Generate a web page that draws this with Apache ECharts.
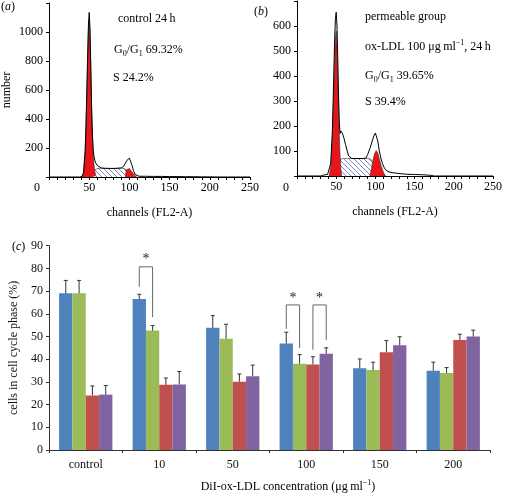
<!DOCTYPE html>
<html><head><meta charset="utf-8">
<script src="https://cdn.jsdelivr.net/npm/echarts@6/dist/echarts.min.js"></script>
<style>html,body{margin:0;padding:0;background:#fff}#c{width:505px;height:494px}</style>
</head><body><div id="c"></div>
<script>
// ---------- Panel (a): control 24 h histogram [channel, count] ----------
const aOutline = [[0,0],[38,0],[41,4],[43,30],[45,180],[46,360],[47,580],[48,820],[49,1040],[50,1135],[51,1020],[52,760],[53,480],[54,290],[55,185],[56,140],[57,115],[58,98],[60,80],[62,68],[65,62],[70,60],[75,59],[80,59],[85,60],[90,63],[93,75],[95,95],[97,115],[99,128],[100,130],[101,125],[103,85],[105,45],[107,18],[109,8],[112,5],[120,5],[130,4],[140,4],[150,3],[160,3],[170,2],[180,2],[190,1],[200,1],[210,0],[250,0]];
const aG1 = [[41,0],[43,30],[45,180],[46,340],[47,550],[48,790],[49,1000],[50,1090],[51,980],[52,730],[53,470],[54,280],[55,160],[56,85],[57,40],[58,12],[59,0]];
const aS = [[50,0],[53,25],[57,50],[60,58],[65,60],[70,59],[80,59],[90,60],[94,60],[96,45],[100,15],[103,0]];
const aG2 = [[95,0],[96,50],[98,60],[100,58],[102,48],[104,30],[106,14],[108,4],[109,0]];

// ---------- Panel (b): ox-LDL 100 histogram [channel, count] ----------
const bOutline = [[0,0],[30,0],[33,3],[36,5],[39,6],[41,10],[43,50],[45,170],[46,290],[47,420],[48,540],[49,630],[50,655],[51,600],[52,470],[53,320],[54,210],[55,170],[56,180],[57,185],[58,170],[60,150],[62,125],[64,100],[66,80],[68,72],[70,70],[75,70],[80,70],[85,70],[88,72],[90,85],[93,110],[96,140],[98,160],[100,172],[101,170],[103,140],[105,100],[107,72],[109,50],[111,35],[113,25],[116,18],[120,14],[125,12],[130,10],[140,7],[150,6],[160,5],[170,3],[175,0],[250,0]];
const bG1 = [[41,0],[43,35],[45,140],[46,240],[47,350],[48,460],[49,550],[50,580],[51,520],[52,400],[53,270],[54,160],[55,80],[56,30],[57,0]];
const bS = [[48,0],[51,20],[54,55],[56,68],[60,70],[70,70],[80,70],[90,70],[94,68],[96,55],[100,30],[104,12],[108,3],[111,0]];
const bG2 = [[93,0],[95,30],[97,65],[99,90],[101,102],[103,92],[105,70],[107,45],[109,25],[111,10],[113,0]];

// ---------- Panel (c): bars ----------
const categories = ['control','10','50','100','150','200'];
const blueVals   = [69.0, 66.5, 53.8, 46.9, 36.0, 34.9];
const blueErr    = [5.7, 2.1, 5.4, 5.0, 4.1, 3.8];
const greenVals  = [69.0, 52.6, 49.0, 38.0, 35.2, 33.9];
const greenErr   = [5.7, 2.2, 6.4, 4.0, 3.5, 2.4];
const redVals    = [24.0, 28.7, 30.1, 37.7, 43.1, 48.5];
const redErr     = [4.2, 3.0, 3.4, 3.4, 5.1, 2.5];
const purpleVals = [24.4, 28.9, 32.5, 42.4, 46.1, 50.0];
const purpleErr  = [4.0, 5.7, 4.9, 2.6, 3.8, 2.8];
// significance brackets: [category, leftBar, rightBar, top, leftLegEnd, rightLegEnd]
const brackets = [[1,0,1,80.7,71.9,58.5],[3,0,1,63.9,53.4,44.9],[3,2,3,63.9,44.2,48.5]];

const FF = 'Liberation Serif';
const chart = echarts.init(document.getElementById('c'), null, {renderer:'canvas'});

// hatch pattern
const pc = document.createElement('canvas'); pc.width = 5; pc.height = 5;
const pctx = pc.getContext('2d'); pctx.strokeStyle = '#5a6ab8'; pctx.lineWidth = 0.8;
[-5,0,5].forEach(x0 => { pctx.beginPath(); pctx.moveTo(x0,0); pctx.lineTo(x0+5,5); pctx.stroke(); });

const GAP = 0.275;
const colors = ['#4F81BD','#9BBB59','#C0504D','#8064A2'];

function histAxisX(grid){
  return {gridIndex:grid, type:'value', min:0, max:250, interval:50,
    axisLine:{show:true, lineStyle:{color:'#000', width:1}},
    axisTick:{show:true, length:3, lineStyle:{color:'#000'}},
    minorTick:{show:true, splitNumber:5, length:3, lineStyle:{color:'#000'}},
    splitLine:{show:false}, minorSplitLine:{show:false},
    axisLabel:{fontFamily:FF, fontSize:12, color:'#000', margin:5, formatter:v => v===0 ? '' : String(v)},
    name:'channels (FL2-A)', nameLocation:'middle', nameGap:30,
    nameTextStyle:{fontFamily:FF, fontSize:12, color:'#000'}};
}
function histAxisY(grid, max, interval, name){
  return {gridIndex:grid, type:'value', min:0, max:max, interval:interval,
    axisLine:{show:true, lineStyle:{color:'#000', width:1}},
    axisTick:{show:true, length:3, lineStyle:{color:'#000'}},
    splitLine:{show:false},
    axisLabel:{fontFamily:FF, fontSize:12, color:'#000', margin:6, formatter:v => (v===0||v===max) ? '' : String(v)},
    name:name, nameLocation:'middle', nameGap:36,
    nameTextStyle:{fontFamily:FF, fontSize:12, color:'#000'}};
}
function areaSeries(data, xi, fill, z){
  return {type:'line', xAxisIndex:xi, yAxisIndex:xi, data:data, symbol:'none', smooth:false,
    lineStyle:{width:0.6, color:'#333'}, areaStyle:{color:fill, opacity:1}, z:z, silent:true};
}
function outlineSeries(data, xi){
  return {type:'line', xAxisIndex:xi, yAxisIndex:xi, data:data, symbol:'none', smooth:false,
    lineStyle:{width:1, color:'#000'}, z:5, silent:true};
}
function barSeries(vals, k){
  return {type:'bar', xAxisIndex:2, yAxisIndex:2, data:vals, barGap:'0%', barCategoryGap:(GAP*100)+'%',
    itemStyle:{color:colors[k]}, z:2, silent:true};
}
function errSeries(vals, errs, k){
  return {type:'custom', xAxisIndex:2, yAxisIndex:2, z:3, silent:true,
    data: vals.map((v,i)=>[i, v, errs[i]]),
    encode:{x:0, y:1},
    renderItem:function(params, api){
      const cat = api.value(0), v = api.value(1), e = api.value(2);
      const band = api.size([1,0])[0];
      const bw = band*(1-GAP)/4;
      const b = api.coord([cat, v]); const t = api.coord([cat, v+e]);
      const x = b[0] + (k-1.5)*bw;
      const st = {stroke:'#333', lineWidth:1};
      return {type:'group', children:[
        {type:'line', shape:{x1:x, y1:b[1], x2:x, y2:t[1]}, style:st},
        {type:'line', shape:{x1:x-2, y1:t[1], x2:x+2, y2:t[1]}, style:st}
      ]};
    }};
}
const bracketSeries = {type:'custom', xAxisIndex:2, yAxisIndex:2, z:4, silent:true,
  data: brackets, encode:{x:0, y:3},
  renderItem:function(params, api){
    const cat = api.value(0), kl = api.value(1), kr = api.value(2);
    const top = api.value(3), lb = api.value(4), rb = api.value(5);
    const band = api.size([1,0])[0];
    const bw = band*(1-GAP)/4;
    const c = api.coord([cat, top]);
    const xl = c[0] + (kl-1.5)*bw, xr = c[0] + (kr-1.5)*bw;
    const yl = api.coord([cat, lb])[1], yr = api.coord([cat, rb])[1];
    const st = {stroke:'#666', lineWidth:1, fill:null};
    return {type:'group', children:[
      {type:'polyline', shape:{points:[[xl,yl],[xl,c[1]],[xr,c[1]],[xr,yr]]}, style:st},
      {type:'text', style:{text:'*', x:(xl+xr)/2, y:c[1]-7, font:'14px '+FF, fill:'#222', textAlign:'center', textVerticalAlign:'middle', align:'center', verticalAlign:'middle'}}
    ]};
  }};

const subRich = {
  n:{fontFamily:FF, fontSize:12, color:'#000', lineHeight:16, verticalAlign:'middle'},
  sub:{fontFamily:FF, fontSize:8, color:'#000', lineHeight:8, verticalAlign:'bottom'},
  sup:{fontFamily:FF, fontSize:8, color:'#000', lineHeight:8, verticalAlign:'top'},
  it:{fontFamily:FF, fontSize:12, fontStyle:'italic', color:'#000', lineHeight:16, verticalAlign:'middle'}
};
function txt(x, y, text){
  return {type:'text', x:x, y:y, style:{text:text, rich:subRich, font:'12px '+FF, fill:'#000',
    textAlign:'left', textVerticalAlign:'middle', align:'left', verticalAlign:'middle'}};
}

const option = {
  animation:false,
  backgroundColor:'#fff',
  grid:[
    {left:49, top:3, width:201, height:174},
    {left:297, top:1, width:197, height:175},
    {left:49, top:245.7, width:441, height:205}
  ],
  xAxis:[
    histAxisX(0),
    histAxisX(1),
    {gridIndex:2, type:'category', data:categories,
      axisLine:{show:true, lineStyle:{color:'#333'}},
      axisTick:{show:true, alignWithLabel:false, length:3, lineStyle:{color:'#333'}},
      axisLabel:{fontFamily:FF, fontSize:12, color:'#111', margin:9},
      splitLine:{show:false},
      name:'{n|DiI-ox-LDL concentration (μg\u2009ml}{sup|−1}{n|)}', nameLocation:'middle', nameGap:29,
      nameTextStyle:{fontFamily:FF, fontSize:12, color:'#111', padding:[0,0,0,37], rich:subRich}}
  ],
  yAxis:[
    histAxisY(0, 1200, 200, 'number'),
    histAxisY(1, 700, 100, ''),
    {gridIndex:2, type:'value', min:0, max:90, interval:10,
      axisLine:{show:true, lineStyle:{color:'#333'}},
      axisTick:{show:true, length:3, lineStyle:{color:'#333'}},
      splitLine:{show:false},
      axisLabel:{fontFamily:FF, fontSize:12, color:'#111', margin:6},
      name:'cells in cell cycle phase (%)', nameLocation:'middle', nameGap:27,
      nameTextStyle:{fontFamily:FF, fontSize:12, color:'#111'}}
  ],
  series:[
    areaSeries(aS, 0, {image:pc, repeat:'repeat'}, 2),
    areaSeries(aG1, 0, '#e8161b', 3),
    areaSeries(aG2, 0, '#e8161b', 3),
    outlineSeries(aOutline, 0),
    areaSeries(bS, 1, {image:pc, repeat:'repeat'}, 2),
    areaSeries(bG1, 1, '#e8161b', 3),
    areaSeries(bG2, 1, '#e8161b', 3),
    outlineSeries(bOutline, 1),
    barSeries(blueVals,0), barSeries(greenVals,1), barSeries(redVals,2), barSeries(purpleVals,3),
    errSeries(blueVals, blueErr, 0), errSeries(greenVals, greenErr, 1),
    errSeries(redVals, redErr, 2), errSeries(purpleVals, purpleErr, 3),
    bracketSeries
  ],
  graphic:[
    txt(1, 7, '{n|(}{it|a}{n|)}'),
    txt(254, 12, '{n|(}{it|b}{n|)}'),
    txt(12, 247, '{n|(}{it|c}{n|)}'),
    txt(34, 188, '{n|0}'),
    txt(283, 188, '{n|0}'),
    txt(118, 19, '{n|control 24\u2009h}'),
    txt(114, 50, '{n|G}{sub|0}{n|/G}{sub|1}{n| 69.32%}'),
    txt(113, 78, '{n|S 24.2%}'),
    txt(365, 17, '{n|permeable group}'),
    txt(365, 47, '{n|ox-LDL 100 μg\u2009ml}{sup|−1}{n|, 24\u2009h}'),
    txt(365, 76, '{n|G}{sub|0}{n|/G}{sub|1}{n| 39.65%}'),
    txt(365, 102, '{n|S 39.4%}')
  ]
};
chart.setOption(option);
</script></body></html>
